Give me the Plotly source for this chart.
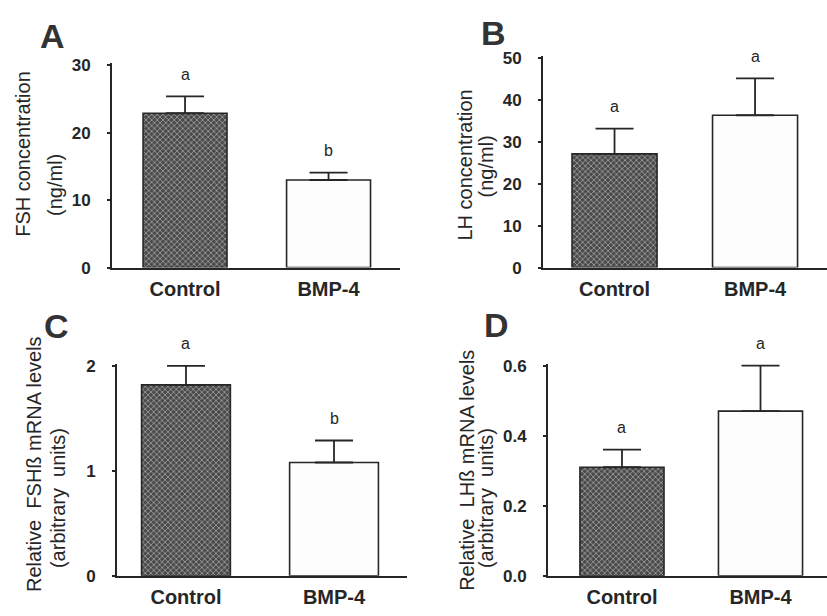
import plotly.graph_objects as go

W, H = 827, 616

groups = ["Control", "BMP-4"]

# Panel A: FSH concentration (ng/ml)
fsh_conc = [22.9, 13.0]
fsh_conc_err = [2.5, 1.1]
fsh_conc_sig = ["a", "b"]

# Panel B: LH concentration (ng/ml)
lh_conc = [27.1, 36.3]
lh_conc_err = [6.0, 8.8]
lh_conc_sig = ["a", "a"]

# Panel C: relative FSHß mRNA levels
fsh_mrna = [1.82, 1.08]
fsh_mrna_err = [0.18, 0.21]
fsh_mrna_sig = ["a", "b"]

# Panel D: relative LHß mRNA levels
lh_mrna = [0.31, 0.47]
lh_mrna_err = [0.05, 0.13]
lh_mrna_sig = ["a", "a"]

FONT = "Liberation Sans, Arial, sans-serif"
INK = "#262626"


def px_x(p):
    return p / W


def px_y(p):
    return 1 - p / H


panels = [
    dict(key="", vals=fsh_conc, err=fsh_conc_err, sig=fsh_conc_sig,
         xdom=(112, 400), ydom=(58, 268), xr=[-0.509, 1.498], yr=[0, 30.3],
         dtick=10, fmt="", width=0.585, letter="A", lpos=(52, 30),
         titles=[("FSH concentration", 23, 151), ("(ng/ml)", 55, 183)]),
    dict(key="2", vals=lh_conc, err=lh_conc_err, sig=lh_conc_sig,
         xdom=(543, 827), ydom=(50, 268), xr=[-0.509, 1.512], yr=[0, 50.5],
         dtick=10, fmt="", width=0.605, letter="B", lpos=(493, 27),
         titles=[("LH concentration", 465, 163), ("(ng/ml)", 486, 164)]),
    dict(key="3", vals=fsh_mrna, err=fsh_mrna_err, sig=fsh_mrna_sig,
         xdom=(117, 407), ydom=(367, 585), xr=[-0.466, 1.493], yr=[0, 2.02],
         dtick=1, fmt="", width=0.6, letter="C", lpos=(56, 328),
         titles=[("Relative  FSHß mRNA levels", 34, 470),
                 ("(arbitrary  units)", 58, 505)]),
    dict(key="4", vals=lh_mrna, err=lh_mrna_err, sig=lh_mrna_sig,
         xdom=(548, 827), ydom=(367, 585), xr=[-0.534, 1.48], yr=[0, 0.605],
         dtick=0.2, fmt=".1f", width=0.607, letter="D", lpos=(497, 327),
         titles=[("Relative  LHß mRNA levels", 467, 477),
                 ("(arbitrary  units)", 486, 505)]),
]

fig = go.Figure()
annotations = []
layout = {}

for p in panels:
    k = p["key"]
    xa, ya = "x" + k, "y" + k
    fig.add_trace(go.Bar(
        x=groups,
        y=p["vals"],
        width=p["width"],
        xaxis=xa, yaxis=ya,
        marker=dict(
            color=["#4a4a4a", "#fdfdfd"],
            line=dict(color=INK, width=1.6),
            pattern=dict(shape=["x", ""], fgcolor="#8a8a8a",
                         bgcolor=["#444444", "#fdfdfd"], size=4, solidity=0.35),
        ),
        error_y=dict(type="data", symmetric=False, array=p["err"],
                     arrayminus=[0, 0], color=INK, thickness=1.8, width=19),
        showlegend=False,
        hoverinfo="skip",
    ))

    # significance letters above the error bars
    for g, v, e, s in zip(groups, p["vals"], p["err"], p["sig"]):
        annotations.append(dict(
            x=g, y=v + e, xref=xa, yref=ya, text=s, showarrow=False,
            yanchor="middle", yshift=22,
            font=dict(family=FONT, size=16, color=INK)))

    x0, x1 = p["xdom"]
    y0, y1 = p["ydom"]
    layout["xaxis" + k] = dict(
        domain=[px_x(x0), px_x(x1)], anchor=ya, range=p["xr"],
        type="category", showline=True, linecolor=INK, linewidth=2,
        ticks="", showgrid=False, zeroline=False,
        tickfont=dict(family=FONT, size=20, color=INK, weight="bold"),
        ticklabelstandoff=2,
    )
    layout["yaxis" + k] = dict(
        domain=[px_y(y1), px_y(y0)], anchor=xa, range=p["yr"],
        showline=True, linecolor=INK, linewidth=2, ticks="outside",
        ticklen=3, tickwidth=1.5, tickcolor=INK, dtick=p["dtick"], tick0=0,
        tickformat=p["fmt"], showgrid=False, zeroline=False,
        ticklabelstandoff=13,
        tickfont=dict(family=FONT, size=17, color=INK, weight="bold"),
    )

    # panel letter
    lx, ly = p["lpos"]
    annotations.append(dict(
        x=px_x(lx), y=px_y(ly), xref="paper", yref="paper", text=p["letter"],
        showarrow=False, xanchor="center", yanchor="middle",
        font=dict(family=FONT, size=34, color="#333333", weight="bold")))

    # two-line rotated axis titles
    for txt, tx, ty in p["titles"]:
        annotations.append(dict(
            x=px_x(tx), y=px_y(ty), xref="paper", yref="paper", text=txt,
            showarrow=False, textangle=-90, xanchor="center", yanchor="middle",
            font=dict(family=FONT, size=20, color=INK)))

fig.update_layout(
    width=W, height=H,
    margin=dict(l=0, r=0, t=0, b=0),
    paper_bgcolor="white", plot_bgcolor="white",
    bargap=0.3,
    annotations=annotations,
    **layout,
)

fig.write_html("out.html")
